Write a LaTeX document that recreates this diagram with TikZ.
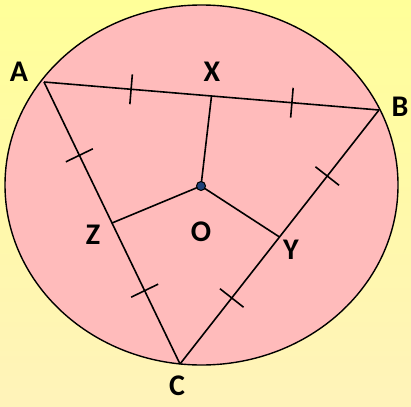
\documentclass[tikz,border=0pt]{standalone}
\usepackage{fontspec}
\setmainfont{Carlito}
\usetikzlibrary{calc}

\definecolor{bgtop}{RGB}{255,255,153}
\definecolor{bgbottom}{RGB}{255,243,186}
\definecolor{discpink}{RGB}{255,187,187}
\definecolor{dotblue}{RGB}{31,64,120}

\begin{document}
\begin{tikzpicture}[
    x=1pt, y=-1pt,
    side/.style={line width=1.6pt},
    tick/.style={draw, line width=1.6pt, sloped, rectangle, minimum width=0pt, minimum height=30pt, inner sep=0pt},
    lbl/.style={font=\fontsize{30}{30}\selectfont\bfseries, inner sep=0pt}
]
    % Background
    \shade[top color=bgtop, bottom color=bgbottom] (0,0) rectangle (411,406);
    \useasboundingbox (0,0) rectangle (411,406);

    % Circumscribed disc
    \draw[fill=discpink, line width=1.4pt] (201.5,185) ellipse [x radius=196.5, y radius=180];

    % Vertices, centre and midpoints
    \coordinate (A) at (44,82);
    \coordinate (B) at (379,110);
    \coordinate (C) at (180,364);
    \coordinate (O) at (201,186);
    \coordinate (X) at ($(A)!0.5!(B)$);
    \coordinate (Y) at ($(B)!0.5!(C)$);
    \coordinate (Z) at ($(A)!0.5!(C)$);

    % Triangle with equal-half ticks
    \foreach \p/\q in {A/B, B/C, A/C} {
        \draw[side] (\p) -- node[tick, pos=0.26] {} node[tick, pos=0.74] {} (\q);
    }

    % Perpendicular bisectors to O
    \foreach \m in {X, Y, Z} {
        \draw[side] (O) -- (\m);
    }
    \node[circle, draw, fill=dotblue, line width=1pt, minimum size=9pt, inner sep=0pt] (Odot) at (O) {};

    % Labels
    \node[lbl] (labA) at (19,72) {A};
    \node[lbl] (labB) at (400,107) {B};
    \node[lbl] (labC) at (177,386) {C};
    \node[lbl] (labX) at (212,72) {X};
    \node[lbl] (labY) at (291,250) {Y};
    \node[lbl] (labZ) at (93,235) {Z};
    \node[lbl] (labO) at (201,232) {O};

\end{tikzpicture}
\end{document}
